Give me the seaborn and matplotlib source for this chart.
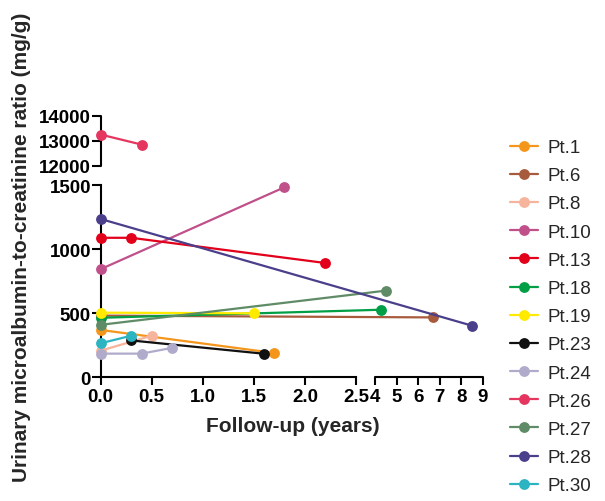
import numpy as np
import pandas as pd
import matplotlib
matplotlib.use("Agg")
import matplotlib.pyplot as plt
import seaborn as sns

# Follow-up (years) and urinary microalbumin-to-creatinine ratio (mg/g) per patient
patients = ['Pt.1', 'Pt.6', 'Pt.8', 'Pt.10', 'Pt.13', 'Pt.18', 'Pt.19',
            'Pt.23', 'Pt.24', 'Pt.26', 'Pt.27', 'Pt.28', 'Pt.30']
years = {
    'Pt.1': [0, 1.7],
    'Pt.6': [0, 6.7],
    'Pt.8': [0, 0.5],
    'Pt.10': [0, 1.8],
    'Pt.13': [0, 0.3, 2.2],
    'Pt.18': [0, 4.3],
    'Pt.19': [0, 1.5],
    'Pt.23': [0.3, 1.6],
    'Pt.24': [0, 0.4, 0.7],
    'Pt.26': [0, 0.4],
    'Pt.27': [0, 4.5],
    'Pt.28': [0, 8.5],
    'Pt.30': [0, 0.3],
}
uacr = {
    'Pt.1': [370, 190],
    'Pt.6': [482, 468],
    'Pt.8': [208, 325],
    'Pt.10': [845, 1485],
    'Pt.13': [1090, 1090, 893],
    'Pt.18': [465, 528],
    'Pt.19': [505, 500],
    'Pt.23': [288, 184],
    'Pt.24': [185, 185, 230],
    'Pt.26': [13250, 12850],
    'Pt.27': [410, 677],
    'Pt.28': [1237, 403],
    'Pt.30': [266, 325],
}
colors = ['#F5961C', '#A85B3C', '#F5B49B', '#C0508A', '#E2001A', '#009E45', '#FFEA00',
          '#111111', '#B0AACB', '#E5365F', '#5F8B66', '#4A3F8B', '#2DB4C2']

x_ticks = [0, 0.5, 1, 1.5, 2, 2.5, 4, 5, 6, 7, 8, 9]
x_labels = ['0.0', '0.5', '1.0', '1.5', '2.0', '2.5', '4', '5', '6', '7', '8', '9']
y_ticks = [0, 500, 1000, 1500, 12000, 13000, 14000]

rows = []
for p in patients:
    for xv, yv in zip(years[p], uacr[p]):
        rows.append({'patient': p, 'years': xv, 'uacr': yv})
df = pd.DataFrame(rows)

# broken axes as piecewise-linear scales (Prism style segments)
XP = [-10, 0, 2.5, 4, 9, 20]
XF = [-1021, 0, 255.3, 274.3, 382.3, 619.9]
YP = [-10000, 0, 1500, 12000, 14000, 30000]
YF = [-1280, 0, 192, 211.5, 261.5, 661.5]


def x_fwd(v):
    return np.interp(v, XP, XF)


def x_inv(v):
    return np.interp(v, XF, XP)


def y_fwd(v):
    return np.interp(v, YP, YF)


def y_inv(v):
    return np.interp(v, YF, YP)


sns.set_style('ticks')
plt.rcParams['font.family'] = ['Liberation Sans', 'DejaVu Sans']

fig = plt.figure(figsize=(6.05, 5.02), dpi=100)
ax = fig.add_axes([0.1664, 0.2464, 0.6319, 0.5209])
ax.set_xscale('function', functions=(x_fwd, x_inv))
ax.set_yscale('function', functions=(y_fwd, y_inv))

sns.lineplot(data=df, x='years', y='uacr', hue='patient', hue_order=patients,
             palette=dict(zip(patients, colors)), estimator=None, sort=False,
             marker='o', markersize=7.8, markeredgewidth=0, linewidth=1.6,
             clip_on=False, zorder=3, legend=False, ax=ax)
data_lines = list(ax.lines)

ax.set_xlim(0, 9)
ax.set_ylim(0, 14000)
ax.set_xticks(x_ticks, labels=x_labels)
ax.set_yticks(y_ticks, labels=[str(t) for t in y_ticks])
ax.minorticks_off()
ax.tick_params(axis='both', direction='out', width=1.5, color='black',
               labelsize=13.5, labelcolor='black')
ax.tick_params(axis='x', length=6, pad=1.5)
ax.tick_params(axis='y', length=6.5, pad=0.5)
for lab in ax.get_xticklabels() + ax.get_yticklabels():
    lab.set_fontweight('bold')

for s in ['top', 'right']:
    ax.spines[s].set_visible(False)
ax.spines['bottom'].set_bounds(0, 2.5)
ax.spines['left'].set_bounds(0, 1500)
for s in ['bottom', 'left']:
    ax.spines[s].set_linewidth(1.5)
    ax.spines[s].set_color('black')
ax.plot([4, 9], [0, 0], color='black', lw=1.5, clip_on=False, zorder=2.5)
ax.plot([0, 0], [12000, 14000], color='black', lw=1.5, clip_on=False, zorder=2.5)

ax.set_xlabel('Follow-up (years)', fontsize=15, fontweight='bold')
ax.set_ylabel('Urinary microalbumin-to-creatinine ratio (mg/g)', fontsize=15, fontweight='bold')
ax.xaxis.set_label_coords(0.503, -0.185)
ax.xaxis.label.set_va('center')
ax.yaxis.set_label_coords(-0.206, 0.5)
ax.yaxis.label.set_va('center')

ax.legend(handles=data_lines, labels=patients, loc='upper left',
          bbox_to_anchor=(510 / 605, 1 - 140 / 502), bbox_transform=fig.transFigure,
          frameon=False, fontsize=13.5, handlelength=1.5, handletextpad=0.48,
          labelspacing=0.59, borderpad=0, borderaxespad=0)

fig.savefig('out.png', dpi=100)
